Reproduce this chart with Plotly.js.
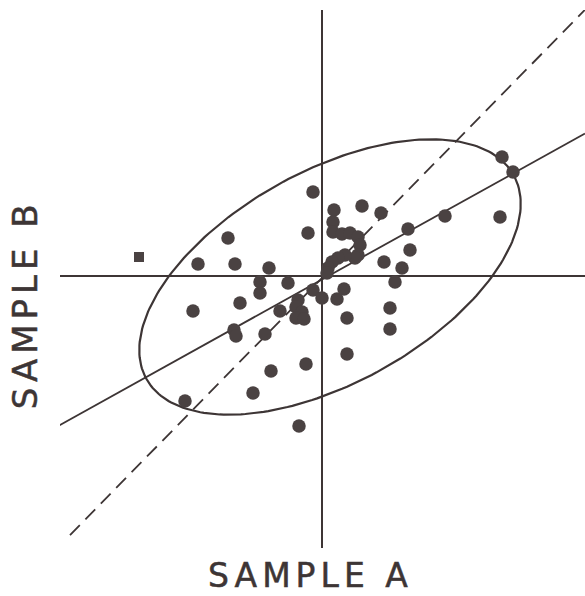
<!DOCTYPE html>
<html>
<head>
<meta charset="utf-8">
<script src="https://cdn.plot.ly/plotly-3.0.1.min.js"></script>
<style>
  html, body { margin: 0; padding: 0; background: #fff; }
  #chart { width: 585px; height: 596px; }
  .annotation-text { letter-spacing: 5px; stroke: #3d3535; stroke-width: 0.5px; }
</style>
</head>
<body>
<div id="chart"></div>
<script>
// Sample A / Sample B values (arbitrary units, origin at the crossing of the axes)
const sampleA = [-9.4, -12.4, -8.7, -5.3, -6.2, -6.2, -3.4, -8.2, -12.9, -0.9, -1.4, 4.0, 5.9, 6.2,
  8.6, 8.8, 8.0, 7.3, 12.3, 17.8, 18.0, 19.1, 6.8, 6.8, 2.5, 2.5, -1.6, -5.1, -6.9, -13.7, -2.3,
  -8.8, -8.6, -5.7, -4.2, -0.9, 0.0, 2.2, 1.5, -2.4, -2.6, -2.0, -2.6, -1.8,
  1.2, 1.1, 1.1, 2.0, 2.8, 3.6, 3.8, 3.6, 3.3, 2.3, 1.6, 1.0, 0.6, 0.5];
const sampleB = [3.8, 1.2, 1.2, 0.8, -0.6, -1.7, -0.7, -2.7, -3.5, 8.4, 4.3, 7.0, 6.3, 1.4,
  4.7, 2.6, 0.8, -0.6, 6.0, 5.9, 11.9, 10.4, -3.2, -5.3, -4.2, -7.8, -8.8, -9.5, -11.7, -12.5, -15.0,
  -5.4, -6.0, -5.8, -3.5, -1.4, -2.2, -1.3, -2.3, -2.4, -3.1, -3.6, -4.2, -4.3,
  6.6, 5.4, 4.4, 4.2, 4.3, 3.9, 3.1, 2.1, 1.8, 2.1, 1.8, 1.4, 0.8, 0.3];
// the single square-marked sample
const squareA = [-18.3];
const squareB = [1.9];

// fitted regression line (solid) and line of equality (dashed)
const regSlope = 0.555, regIntercept = -0.35, regXRange = [-26.4, 26.3];
const eqSlope = 1.02, eqIntercept = -0.2, eqXRange = [-25.2, 26.3];
// confidence ellipse: center, semi-axes, rotation (degrees)
const ellCenter = [0.8, -0.1], ellAxes = [21.0, 10.6], ellAngle = 29;

const ink = '#3d3535';
const dot = '#4a4242';

function lineTrace(slope, icpt, xr, dash) {
  return {
    x: xr, y: xr.map(v => icpt + slope * v), mode: 'lines', type: 'scatter',
    line: { color: ink, width: 1.8, dash: dash }, hoverinfo: 'skip', showlegend: false
  };
}
const ex = [], ey = [];
const th = ellAngle * Math.PI / 180;
for (let i = 0; i <= 240; i++) {
  const t = 2 * Math.PI * i / 240;
  const c = ellAxes[0] * Math.cos(t), s = ellAxes[1] * Math.sin(t);
  ex.push(ellCenter[0] + c * Math.cos(th) - s * Math.sin(th));
  ey.push(ellCenter[1] + c * Math.sin(th) + s * Math.cos(th));
}

const data = [
  { x: ex, y: ey, mode: 'lines', type: 'scatter', line: { color: ink, width: 2.2 }, hoverinfo: 'skip', showlegend: false },
  lineTrace(regSlope, regIntercept, regXRange, 'solid'),
  lineTrace(eqSlope, eqIntercept, eqXRange, '14px,8px'),
  { x: sampleA, y: sampleB, mode: 'markers', type: 'scatter', marker: { color: dot, size: 13.5 }, showlegend: false },
  { x: squareA, y: squareB, mode: 'markers', type: 'scatter', marker: { color: dot, size: 10, symbol: 'square' }, showlegend: false }
];

const layout = {
  width: 585, height: 596,
  margin: { l: 60, r: 0, t: 10, b: 48 },
  paper_bgcolor: '#ffffff', plot_bgcolor: '#ffffff',
  xaxis: { range: [-26.2, 26.3], showgrid: false, showticklabels: false, ticks: '',
    zeroline: true, zerolinecolor: ink, zerolinewidth: 2, showline: false },
  yaxis: { range: [-27.2, 26.6], showgrid: false, showticklabels: false, ticks: '',
    zeroline: true, zerolinecolor: ink, zerolinewidth: 2.4, showline: false },
  annotations: [
    { text: 'SAMPLE A', xref: 'paper', yref: 'paper', x: 0.478, y: -0.0502,
      xanchor: 'center', yanchor: 'middle', showarrow: false,
      font: { family: 'DejaVu Sans, Liberation Sans, sans-serif', size: 33, color: ink } },
    { text: 'SAMPLE B', xref: 'paper', yref: 'paper', x: -0.0676, y: 0.452, textangle: -90,
      xanchor: 'center', yanchor: 'middle', showarrow: false,
      font: { family: 'DejaVu Sans, Liberation Sans, sans-serif', size: 34, color: ink } }
  ]
};

Plotly.newPlot('chart', data, layout, { staticPlot: true, displayModeBar: false });
</script>
</body>
</html>
